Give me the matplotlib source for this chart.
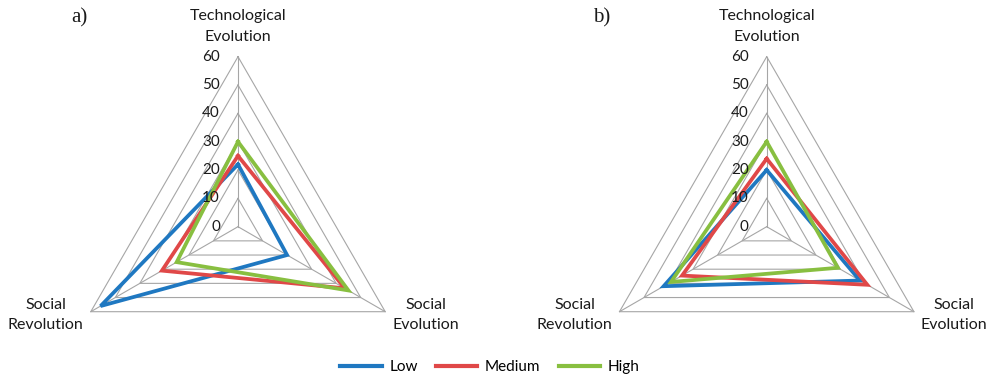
import matplotlib.pyplot as plt
import numpy as np

plt.rcParams['font.family'] = ['Lato', 'DejaVu Sans']

categories = ['Technological\nEvolution', 'Social\nEvolution', 'Social\nRevolution']
levels = [0, 10, 20, 30, 40, 50, 60]
series = ['Low', 'Medium', 'High']
colors = ['#1f78c1', '#e04848', '#88bf40']

# values per series: [Technological Evolution, Social Evolution, Social Revolution]
panel_a = {
    'Low': [22, 20, 56],
    'Medium': [25, 43.5, 31],
    'High': [30, 45, 25],
}
panel_b = {
    'Low': [20, 38, 42],
    'Medium': [24, 41, 34.5],
    'High': [30, 29, 39],
}

W, H = 994, 379
px = 170 / 60.0  # pixels per unit of value
angles = np.deg2rad([90, -30, 210])
TXT = '#1a1a1a'


def to_xy(vals):
    vals = np.asarray(vals, dtype=float)
    x = vals * np.cos(angles)
    y = vals * np.sin(angles)
    return np.append(x, x[0]), np.append(y, y[0])


def radar(ax, data, cx, tag, tag_x, right_x, left_x):
    # ax spans half the figure; cx and the *_x arguments are pixel positions inside it
    w = W / 2
    cy = 226.7
    ax.set_xlim(-cx / px, (w - cx) / px)
    ax.set_ylim((cy - H) / px, cy / px)
    ax.axis('off')

    def xp(p):
        return (p - cx) / px

    for lv in levels[1:]:
        x, y = to_xy([lv] * 3)
        ax.plot(x, y, color='#a6a6a6', lw=0.8, zorder=1)
    for a in angles:
        ax.plot([0, 60 * np.cos(a)], [0, 60 * np.sin(a)], color='#a6a6a6', lw=0.8, zorder=1)

    for lv in levels:
        ax.text(-18 / px, lv, str(lv), ha='right', va='center', fontsize=11, color=TXT, zorder=3)

    for s, c in zip(series, colors):
        x, y = to_xy(data[s])
        ax.plot(x, y, color=c, lw=2.7, solid_joinstyle='miter', zorder=2)

    kw = dict(ha='center', va='center', fontsize=11.5, linespacing=1.6, color=TXT)
    ax.text(0, (cy - 26.5) / px, categories[0], **kw)
    ax.text(xp(right_x), (cy - 315) / px, categories[1], **kw)
    ax.text(xp(left_x), (cy - 315) / px, categories[2], **kw)
    ax.text(xp(tag_x), (cy - 18) / px, tag, ha='center', va='center', fontsize=15,
            family='Liberation Serif', color=TXT)


fig = plt.figure(figsize=(W / 100, H / 100), dpi=100)
ax1 = fig.add_axes([0, 0, 0.5, 1])
ax2 = fig.add_axes([0.5, 0, 0.5, 1])

radar(ax1, panel_a, 238, 'a)', 79, 425.7, 45.7)
radar(ax2, panel_b, 269.7, 'b)', 105, 457, 77.7)

handles = [plt.Line2D([], [], color=c, lw=3) for c in colors]
fig.legend(handles, series, loc='center', bbox_to_anchor=(490 / W, 1 - 367 / H), ncol=3,
           frameon=False, fontsize=11, handlelength=2.7, handletextpad=0.5, columnspacing=1.2)

fig.savefig('out.png', dpi=100)
